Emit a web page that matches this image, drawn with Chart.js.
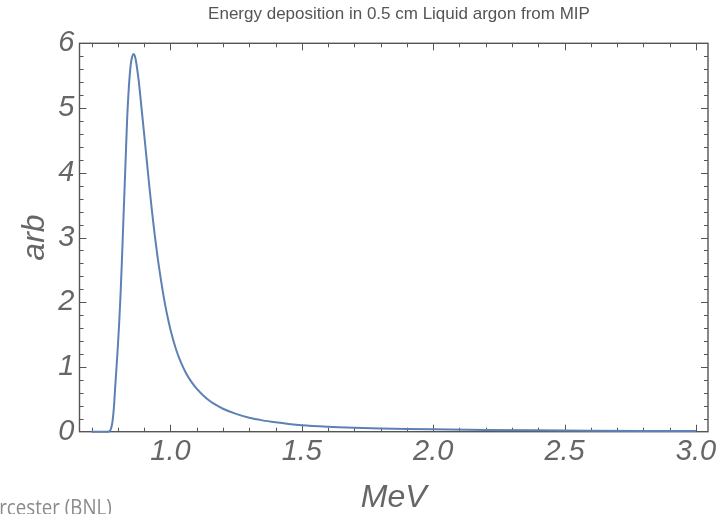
<!DOCTYPE html>
<html>
<head>
<meta charset="utf-8">
<script src="https://cdn.jsdelivr.net/npm/chart.js@4/dist/chart.umd.min.js"></script>
<style>
  body { margin: 0; background: #fff; }
  #wrap { width: 726px; height: 514px; }
</style>
</head>
<body>
<div id="wrap"><canvas id="landau" width="726" height="514"></canvas></div>
<script>
// energy deposited (MeV) and density (arb)
const energy = [0.70, 0.75, 0.76, 0.765, 0.77, 0.775, 0.78, 0.785, 0.79, 0.795,
  0.80, 0.805, 0.81, 0.815, 0.82, 0.825, 0.83, 0.835, 0.84, 0.845,
  0.85, 0.855, 0.86, 0.865, 0.87, 0.875, 0.88, 0.89, 0.90, 0.91,
  0.92, 0.93, 0.94, 0.95, 0.96, 0.97, 0.98, 0.99, 1.00, 1.02,
  1.04, 1.06, 1.08, 1.10, 1.125, 1.15, 1.175, 1.20, 1.25, 1.30,
  1.35, 1.40, 1.45, 1.50, 1.60, 1.70, 1.80, 1.90, 2.00, 2.20,
  2.40, 2.60, 2.80, 3.00];
const arb = [0, 0, 0, 0.003, 0.015, 0.06, 0.17, 0.38, 0.70, 1.00,
  1.32, 1.68, 2.10, 2.60, 3.15, 3.70, 4.25, 4.80, 5.20, 5.50,
  5.70, 5.80, 5.835, 5.80, 5.70, 5.56, 5.40, 5.00, 4.60, 4.19,
  3.78, 3.40, 3.05, 2.73, 2.45, 2.19, 1.96, 1.76, 1.58, 1.29,
  1.07, 0.90, 0.77, 0.665, 0.56, 0.475, 0.41, 0.355, 0.275, 0.215,
  0.175, 0.145, 0.12, 0.10, 0.077, 0.062, 0.051, 0.043, 0.037, 0.028,
  0.021, 0.016, 0.012, 0.009];

const xTicks = [1.0, 1.5, 2.0, 2.5, 3.0];
const yTicks = [0, 1, 2, 3, 4, 5, 6];
const titleText = 'Energy deposition in 0.5 cm Liquid argon from MIP';

const gray = '#666';
const frameCol = '#555';
const sans = '"Liberation Sans", Arial, sans-serif';

// mathematica style frame with inward ticks on all four sides
const frameTicks = {
  id: 'frameTicks',
  beforeDatasetsDraw(chart) {
    const {ctx, chartArea: a, scales: {x, y}} = chart;
    ctx.save();
    ctx.strokeStyle = frameCol;
    ctx.lineWidth = 1;
    // x ticks every 0.1, long on 0.5
    for (let i = 7; i <= 30; i++) {
      const px = Math.round(x.getPixelForValue(i / 10)) + 0.5;
      const len = (i % 5 === 0) ? 7 : 4;
      ctx.beginPath();
      ctx.moveTo(px, a.bottom); ctx.lineTo(px, a.bottom - len);
      ctx.moveTo(px, a.top); ctx.lineTo(px, a.top + len);
      ctx.stroke();
    }
    // y ticks every 0.2, long on integers
    for (let j = 1; j < 30; j++) {
      const py = Math.round(y.getPixelForValue(j / 5)) + 0.5;
      const len = (j % 5 === 0) ? 7 : 4;
      ctx.beginPath();
      ctx.moveTo(a.left, py); ctx.lineTo(a.left + len, py);
      ctx.moveTo(a.right, py); ctx.lineTo(a.right - len, py);
      ctx.stroke();
    }
    ctx.lineWidth = 1.4;
    ctx.strokeRect(a.left, a.top, a.right - a.left, a.bottom - a.top);
    ctx.restore();
  },
  afterDraw(chart) {
    const ctx = chart.ctx;
    ctx.save();
    // plot label
    ctx.fillStyle = '#555';
    ctx.font = '17px ' + sans;
    ctx.textAlign = 'center';
    ctx.textBaseline = 'middle';
    ctx.fillText(titleText, 399, 14);
    // leftover slide footer, cut off at the left edge (squeezed, calibri-ish)
    ctx.fillStyle = '#8a8a8a';
    ctx.font = '22px "Open Sans", sans-serif';
    ctx.textAlign = 'left';
    ctx.textBaseline = 'alphabetic';
    ctx.scale(0.85, 1);
    ctx.fillText('rcester (BNL)', -1, 515);
    ctx.restore();
  }
};

const ctx = document.getElementById('landau').getContext('2d');
const chart = new Chart(ctx, {
  type: 'line',
  data: {
    datasets: [{
      data: energy.map((e, i) => ({x: e, y: arb[i]})),
      borderColor: 'rgb(94,129,181)',
      borderWidth: 2,
      pointRadius: 0,
      cubicInterpolationMode: 'monotone',
      fill: false,
      clip: false
    }]
  },
  options: {
    responsive: false,
    animation: false,
    layout: { padding: { left: 0, right: 18, top: 43.3, bottom: 0 } },
    plugins: {
      legend: { display: false },
      tooltip: { enabled: false },
      title: { display: false }
    },
    scales: {
      x: {
        type: 'linear',
        min: 0.654,
        max: 3.046,
        grid: { display: false, drawTicks: false },
        border: { display: false },
        afterBuildTicks: s => { s.ticks = xTicks.map(v => ({value: v})); },
        afterFit: s => { s.height = 82.3; },
        ticks: {
          color: gray,
          padding: 6,
          maxRotation: 0,
          font: { family: sans, size: 29, style: 'italic', lineHeight: 1 },
          callback: v => v.toFixed(1)
        },
        title: {
          display: true,
          text: 'MeV',
          color: gray,
          font: { family: sans, size: 32, style: 'italic', lineHeight: 1 },
          padding: { top: 0, bottom: 0 }
        }
      },
      y: {
        min: 0,
        max: 6,
        grid: { display: false, drawTicks: false },
        border: { display: false },
        afterBuildTicks: s => { s.ticks = yTicks.map(v => ({value: v})); },
        afterFit: s => { s.width = 79.5; },
        ticks: {
          color: gray,
          padding: 5,
          font: { family: sans, size: 29, style: 'italic', lineHeight: 1 }
        },
        title: {
          display: true,
          text: 'arb',
          color: gray,
          font: { family: sans, size: 32, style: 'italic', lineHeight: 1 },
          padding: { top: 19, bottom: 0 }
        }
      }
    }
  },
  plugins: [frameTicks]
});
</script>
</body>
</html>
